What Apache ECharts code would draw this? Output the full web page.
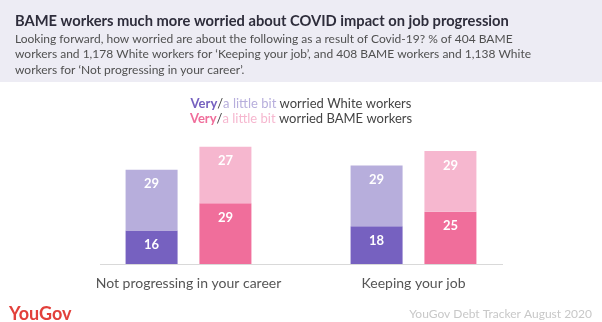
<!DOCTYPE html>
<html><head><meta charset="utf-8">
<script src="https://cdn.jsdelivr.net/npm/echarts@6/dist/echarts.min.js"></script>
<style>html,body{margin:0;padding:0;background:#fff}#c{width:602px;height:322px}</style>
</head><body><div id="c"></div>
<script>
var categories = ['Not progressing in your career', 'Keeping your job'];
var whiteVery = [16, 18];
var whiteLittle = [29, 29];
var bameVery = [29, 25];
var bameLittle = [27, 29];

var FONT = 'Lato';
var cWV = '#7661c0', cWL = '#b7aedc', cBV = '#f06e9b', cBL = '#f6b7cf';

function lbl() {
  return { show: true, position: 'insideTop', distance: 8, color: '#fff', fontWeight: 'bold', fontSize: 13, fontFamily: FONT };
}

var chart = echarts.init(document.getElementById('c'), null, { renderer: 'canvas' });
chart.setOption({
  animation: false,
  backgroundColor: '#fff',
  graphic: [
    { type: 'rect', z: -10, shape: { x: 0, y: 0, width: 602, height: 82 }, style: { fill: '#edecf4' } },
    { type: 'line', shape: { x1: 100, y1: 264.5, x2: 503, y2: 264.5 }, style: { stroke: '#d9d9d9', lineWidth: 1 } }
  ],
  title: [
    { text: 'BAME workers much more worried about COVID impact on job progression', left: 10, top: 9,
      textStyle: { fontFamily: FONT, fontWeight: 'bold', fontSize: 14.7, color: '#2e2d3b' } },
    { text: 'Looking forward, how worried are about the following as a result of Covid-19? % of 404 BAME\nworkers and 1,178 White workers for \u2018Keeping your job\u2019, and 408 BAME workers and 1,138 White\nworkers for \u2018Not progressing in your career\u2019.',
      left: 10, top: 26, textStyle: { fontFamily: FONT, fontWeight: 'normal', fontSize: 12, lineHeight: 15.5, color: '#505050' } },
    { text: '{a|Very}{s|/}{b|a little bit}{s| worried White workers}\n{c|Very}{s|/}{d|a little bit}{s| worried BAME workers}',
      left: 'center', top: 91,
      textStyle: { fontFamily: FONT, fontSize: 13, fontWeight: 'normal', lineHeight: 15.5, color: '#444',
        rich: {
          a: { color: cWV, fontWeight: 'bold', fontSize: 13, fontFamily: FONT },
          b: { color: cWL, fontWeight: 'normal', fontSize: 13, fontFamily: FONT },
          c: { color: cBV, fontWeight: 'bold', fontSize: 13, fontFamily: FONT },
          d: { color: cBL, fontWeight: 'normal', fontSize: 13, fontFamily: FONT },
          s: { color: '#444', fontWeight: 'normal', fontSize: 13, fontFamily: FONT }
        } } },
    { text: 'YouGov', left: 4, top: 300, textStyle: { fontFamily: FONT, fontWeight: 'bold', fontSize: 18, color: '#e2403b' } },
    { text: 'YouGov Debt Tracker August 2020', right: 5, top: 303, textStyle: { fontFamily: FONT, fontWeight: 'normal', fontSize: 12, color: '#c8c8c8' } }
  ],
  grid: { left: 76, right: 76, top: 130, bottom: 58, containLabel: false },
  xAxis: {
    type: 'category', data: categories,
    axisLine: { show: false }, axisTick: { show: false },
    axisLabel: { interval: 0, color: '#555', fontSize: 14, fontFamily: FONT, margin: 12 }
  },
  yAxis: { type: 'value', min: 0, max: 64, show: false, splitLine: { show: false } },
  series: [
    { name: 'White very', type: 'bar', stack: 'white', data: whiteVery, barWidth: 52, barGap: '42%', itemStyle: { color: cWV }, label: lbl() },
    { name: 'White little', type: 'bar', stack: 'white', data: whiteLittle, barWidth: 52, barGap: '42%', itemStyle: { color: cWL }, label: lbl() },
    { name: 'BAME very', type: 'bar', stack: 'bame', data: bameVery, barWidth: 52, barGap: '42%', itemStyle: { color: cBV }, label: lbl() },
    { name: 'BAME little', type: 'bar', stack: 'bame', data: bameLittle, barWidth: 52, barGap: '42%', itemStyle: { color: cBL }, label: lbl() }
  ]
});
</script></body></html>
